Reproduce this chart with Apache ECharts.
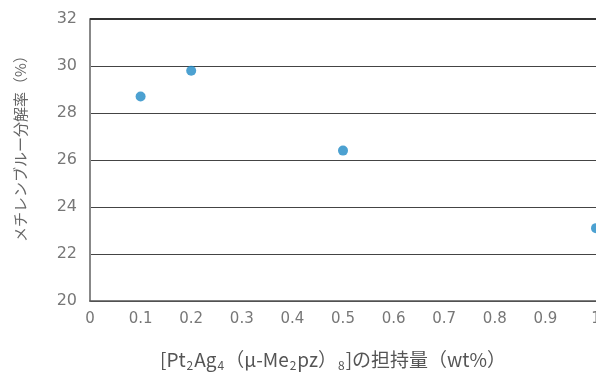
<!DOCTYPE html>
<html>
<head>
<meta charset="utf-8">
<script src="https://cdn.jsdelivr.net/npm/echarts@6/dist/echarts.min.js"></script>
<style>
  html, body { margin: 0; padding: 0; background: #fff; }
  #chart { width: 596px; height: 372px; }
</style>
</head>
<body>
<div id="chart"></div>
<script>
// Loading of the Pt2Ag4 complex (wt%) vs. methylene blue decomposition (%)
const loadings = [0.1, 0.2, 0.5, 1.0];
const decomposition = [28.7, 29.8, 26.4, 23.1];

const xTicks = { min: 0, max: 1, interval: 0.1 };
const yTicks = { min: 20, max: 32, interval: 2 };

const FONT = '"Noto Sans CJK JP", "Noto Sans", sans-serif';
const NUM_FONT = '"DejaVu Sans", sans-serif';

const chart = echarts.init(document.getElementById('chart'), null, { renderer: 'canvas' });

chart.setOption({
  animation: false,
  backgroundColor: '#ffffff',
  grid: { left: 90, right: 0, top: 19, bottom: 71, containLabel: false, outerBoundsMode: 'none' },
  xAxis: {
    type: 'value',
    min: xTicks.min,
    max: xTicks.max,
    interval: xTicks.interval,
    axisLine: { show: true, lineStyle: { color: '#555', width: 1.5 } },
    axisTick: { show: false },
    splitLine: { show: false },
    axisLabel: {
      color: '#777',
      fontFamily: NUM_FONT,
      fontSize: 15,
      margin: 11,
      hideOverlap: false,
      showMaxLabel: true,
      formatter: v => String(Math.round(v * 10) / 10)
    },
    name: '{t|[Pt}{s|2}{t|Ag}{s|4}{t|（}{t|μ-Me}{s|2}{t|pz）}{s|8}{t|]の担持量（wt%）}',
    nameLocation: 'middle',
    nameGap: 48,
    nameTextStyle: {
      padding: [0, 20, 0, 0],
      rich: {
        t: { fontFamily: FONT, fontSize: 19, color: '#555' },
        s: { fontFamily: FONT, fontSize: 12, color: '#555', padding: [10, 1, 0, 1] }
      }
    }
  },
  yAxis: {
    type: 'value',
    min: yTicks.min,
    max: yTicks.max,
    interval: yTicks.interval,
    axisLine: { show: true, lineStyle: { color: '#888', width: 2 } },
    axisTick: { show: false },
    splitLine: { show: true, lineStyle: { color: '#444', width: 1 } },
    axisLabel: {
      color: '#777',
      fontFamily: NUM_FONT,
      fontSize: 16,
      margin: 13
    },
    name: 'メチレンブルー分解率（%）',
    nameLocation: 'middle',
    nameGap: 62,
    nameTextStyle: { fontFamily: FONT, fontSize: 15, color: '#666', padding: [0, 0, 0, 30] }
  },
  series: [{
    type: 'scatter',
    data: loadings.map((x, i) => [x, decomposition[i]]),
    symbol: 'circle',
    symbolSize: 10,
    clip: false,
    itemStyle: { color: '#1f8ac5' }
  }],
  graphic: [{
    type: 'line',
    shape: { x1: 90, y1: 19, x2: 596, y2: 19 },
    style: { stroke: '#333', lineWidth: 2 },
    z: 10
  }]
});
</script>
</body>
</html>
